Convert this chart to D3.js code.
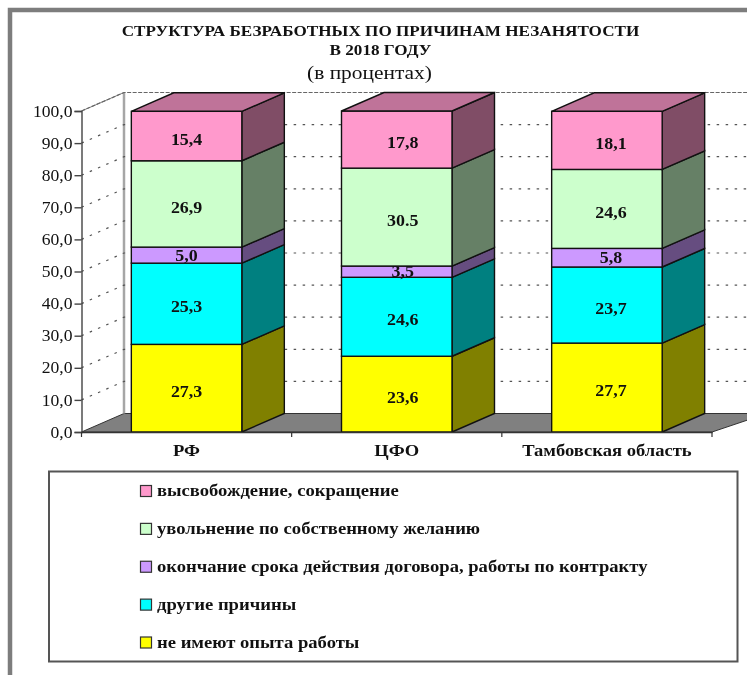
<!DOCTYPE html>
<html><head><meta charset="utf-8">
<style>html,body{margin:0;padding:0;background:#fff;overflow:hidden}svg{display:block;filter:blur(0.35px)}text{font-family:"Liberation Serif",serif;fill:#111}</style>
<script src="https://cdn.jsdelivr.net/npm/d3@7"></script></head><body><div id="c"></div>
<script>
const categories = ["РФ","ЦФО","Тамбовская область"];
const seriesNames = ["не имеют опыта работы","другие причины","окончание срока действия договора, работы по контракту","увольнение по собственному желанию","высвобождение, сокращение"];
const noExperience = [27.3,23.6,27.7];
const otherReasons = [25.3,24.6,23.7];
const contractEnd = [5.0,3.5,5.8];
const voluntary = [26.9,30.5,24.6];
const layoffs = [15.4,17.8,18.1];
const voluntaryLabels = ["26,9","30.5","24,6"];
const frontColors = ["#FFFF00","#00FFFF","#CC99FF","#CCFFCC","#FF99CC"];
const titleLines = ["СТРУКТУРА БЕЗРАБОТНЫХ ПО ПРИЧИНАМ НЕЗАНЯТОСТИ","В 2018 ГОДУ"];
const subtitle = "(в процентах)";
const yTicks = [0,10,20,30,40,50,60,70,80,90,100];

const W=747,H=675;
const plot={l:81.5,r:712,t:111,b:432}, dx=42.5, dy=-18.5, barW=110.5;
const labelNudge=[0,6,4];
const svg=d3.select("#c").append("svg").attr("width",W).attr("height",H);
const comma=v=>v.toFixed(1).replace(".",",");
const x=d3.scaleBand().domain(categories).range([plot.l,plot.r]);
const y=d3.scaleLinear().domain([0,100]).range([plot.b,plot.t]);
const seriesValues=[noExperience,otherReasons,contractEnd,voluntary,layoffs];
const line=d3.line();
const poly=p=>line(p)+"Z";
// the reference's lettering is horizontally wider than the installed face
const stretch=(sel,f)=>sel.each(function(){this.setAttribute("textLength",this.getComputedTextLength()*f);this.setAttribute("lengthAdjust","spacingAndGlyphs");});

// frame
svg.append("path").attr("d",`M10,${H}V10H${W}`).attr("fill","none").attr("stroke","#7d7d7d").attr("stroke-width",4.5);

// titles
const tg=svg.append("g").attr("text-anchor","middle");
tg.selectAll("text.t").data(titleLines).join("text").attr("class","t").attr("x",380.5).attr("y",(d,i)=>36+i*19)
  .attr("font-weight","bold").attr("font-size",15).text(d=>d).call(stretch,1.143);
tg.append("text").attr("x",369.5).attr("y",79).attr("font-size",18).text(subtitle).call(stretch,1.19);

// walls
const g=svg.append("g");
g.append("path").attr("d",poly([[plot.l,plot.b],[plot.l+dx,plot.b+dy],[W+20,plot.b+dy],[plot.r,plot.b]])).attr("fill","#808080").attr("stroke","#333").attr("stroke-width",1);
g.append("line").attr("x1",plot.l+dx).attr("x2",plot.l+dx).attr("y1",y(100)+dy).attr("y2",plot.b+dy).attr("stroke","#a6a6a6").attr("stroke-width",2.5);
g.append("line").attr("x1",plot.l).attr("y1",y(100)).attr("x2",plot.l+dx).attr("y2",y(100)+dy).attr("stroke","#8a8a8a").attr("stroke-width",1);
g.selectAll("path.grid").data(yTicks.slice(1)).join("path").attr("class","grid")
  .attr("d",d=>line([[plot.l,y(d)],[plot.l+dx,y(d)+dy],[W+20,y(d)+dy]])).attr("fill","none")
  .attr("stroke",d=>d===100?"#666":"#555").attr("stroke-width",1.2).attr("stroke-dasharray",d=>d===100?"4 1.5":"2.5 6.5");

// bars
const stackData=categories.map((c,i)=>{let s=0;return seriesValues.map((v,k)=>{const a=s;s+=v[i];return {c,i,k,a,b:s,v:v[i]};});});
const shade=(col,f)=>{const r=d3.rgb(col);return d3.rgb(r.r*f,r.g*f,r.b*f).formatHex();};
const bars=g.selectAll("g.bar").data(stackData).join("g").attr("class","bar");
bars.each(function(rows){
  const b=d3.select(this), cx=x(rows[0].c)+x.bandwidth()/2, x0=cx-barW/2, x1=cx+barW/2;
  rows.forEach(r=>{
    b.append("path").attr("d",poly([[x1,y(r.a)],[x1+dx,y(r.a)+dy],[x1+dx,y(r.b)+dy],[x1,y(r.b)]])).attr("fill",shade(frontColors[r.k],0.5)).attr("stroke","#111").attr("stroke-width",1.4);
    b.append("rect").attr("x",x0).attr("width",barW).attr("y",y(r.b)).attr("height",y(r.a)-y(r.b)).attr("fill",frontColors[r.k]).attr("stroke","#111").attr("stroke-width",1.4);
  });
  const top=rows[rows.length-1];
  b.append("path").attr("d",poly([[x0,y(top.b)],[x0+dx,y(top.b)+dy],[x1+dx,y(top.b)+dy],[x1,y(top.b)]])).attr("fill",shade(frontColors[top.k],0.75)).attr("stroke","#111").attr("stroke-width",1.4);
  rows.forEach(r=>{
    const t=r.k===3?voluntaryLabels[r.i]:comma(r.v);
    b.append("text").attr("x",cx+labelNudge[r.i]).attr("y",(y(r.a)+y(r.b))/2+(r.k===2?0:3)).attr("dy","0.35em").attr("text-anchor","middle").attr("font-weight","bold").attr("font-size",16).text(t).call(stretch,1.12);
  });
});

// axes
const yAxis=d3.axisLeft(y).tickValues(yTicks).tickFormat(comma).tickSize(7).tickPadding(2);
const ay=svg.append("g").attr("transform",`translate(${plot.l},0)`).call(yAxis);
ay.selectAll("text").attr("font-size",16).style("font-family",'"Liberation Serif",serif').attr("fill","#222").call(stretch,1.1);
ay.selectAll("line,path").attr("stroke","#444").attr("stroke-width",1.4);
const xAxis=d3.axisBottom(x).tickFormat(d=>d).tickSize(0).tickPadding(13);
const ax=svg.append("g").attr("transform",`translate(0,${plot.b})`).call(xAxis);
ax.selectAll("path").attr("stroke","#333").attr("stroke-width",1.4);
ax.selectAll("text").attr("font-size",16).attr("font-weight","bold").style("font-family",'"Liberation Serif",serif').attr("fill","#111").call(stretch,1.16);
ax.selectAll("line.cat").data(d3.range(categories.length+1)).join("line").attr("class","cat")
  .attr("x1",i=>x.range()[0]+i*x.bandwidth()).attr("x2",i=>x.range()[0]+i*x.bandwidth()).attr("y1",0).attr("y2",5).attr("stroke","#333").attr("stroke-width",1.2);

// legend
const lg=svg.append("g");
lg.append("rect").attr("x",49).attr("y",471.5).attr("width",688.5).attr("height",190).attr("fill","#fff").attr("stroke","#555").attr("stroke-width",2);
const legendY=d3.scalePoint().domain(seriesNames).range([642.5,491]);
const li=lg.selectAll("g.li").data(seriesNames).join("g").attr("class","li").attr("transform",d=>`translate(0,${legendY(d)})`);
li.append("rect").attr("x",140.5).attr("y",-5.5).attr("width",11).attr("height",11).attr("fill",(d,i)=>frontColors[i]).attr("stroke","#333").attr("stroke-width",1.2);
li.append("text").attr("x",157).attr("y",0).attr("dy","0.32em").attr("font-weight","bold").attr("font-size",16).text(d=>d).call(stretch,1.163);
</script></body></html>
